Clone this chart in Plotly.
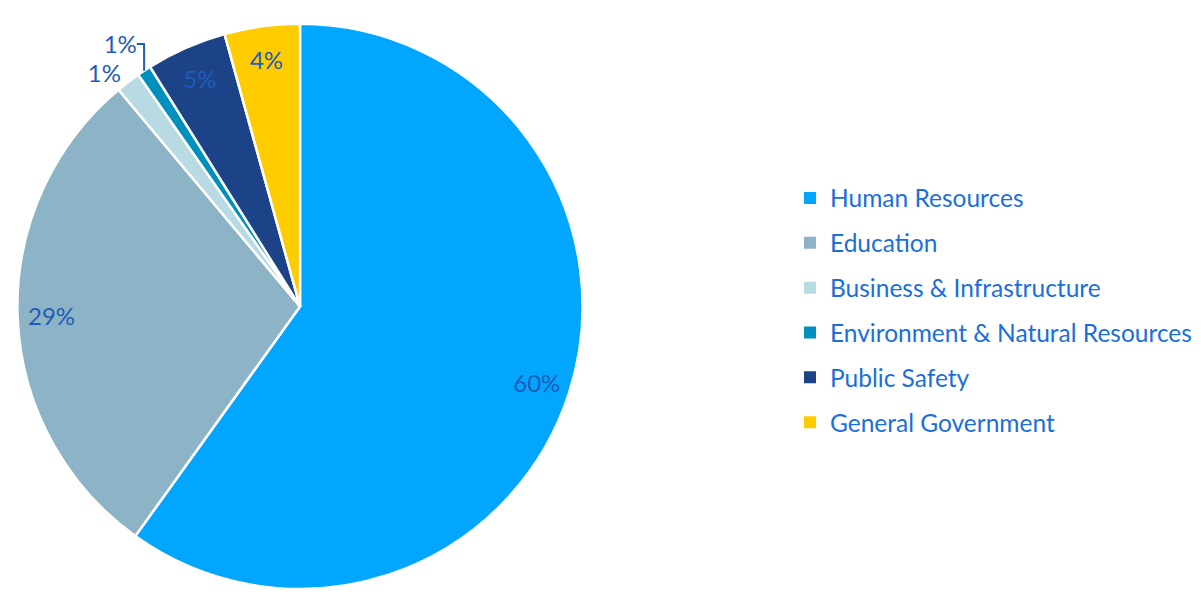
import plotly.graph_objects as go

categories = ["Human Resources", "Education", "Business & Infrastructure",
              "Environment & Natural Resources", "Public Safety", "General Government"]
shares = [59.9, 29.0, 1.4, 0.8, 4.6, 4.3]
colors = ["#00A6FF", "#8DB4C6", "#B7DAE3", "#0090BE", "#1C4288", "#FFCC00"]
text_positions = ["inside", "inside", "outside", "outside", "inside", "inside"]

W, H = 1201, 594
cx, r = 300, 285
dom = dict(x=[(cx - r) / W, (cx + r) / W], y=[0, 2 * r / H])
label_font = dict(family="Lato", size=24, color="#1F5CB8")

fig = go.Figure()
# coloured slices
fig.add_trace(go.Pie(
    labels=categories, values=shares, sort=False, direction="clockwise", rotation=0,
    marker=dict(colors=colors, line=dict(color="white", width=2.5)),
    textinfo="none", showlegend=False, hoverinfo="label+percent", domain=dom,
))
# transparent ring carrying the percentage labels near the rim
fig.add_trace(go.Pie(
    labels=categories, values=shares, sort=False, direction="clockwise", rotation=0,
    hole=0.76,
    marker=dict(colors=["rgba(0,0,0,0)"] * len(categories), line=dict(width=0)),
    texttemplate="%{percent:.0%}", textposition=text_positions,
    insidetextorientation="horizontal",
    textfont=label_font, outsidetextfont=label_font,
    showlegend=False, hoverinfo="skip", domain=dom,
))
for name, col in zip(categories, colors):
    fig.add_trace(go.Scatter(x=[None], y=[None], mode="markers", name=name,
                             legendgroup=name,
                             marker=dict(symbol="square", size=12, color=col)))

fig.update_layout(
    width=W, height=H, margin=dict(l=0, r=0, t=0, b=0),
    paper_bgcolor="white", plot_bgcolor="white",
    xaxis=dict(visible=False), yaxis=dict(visible=False),
    uniformtext=dict(minsize=24, mode="show"),
    legend=dict(x=(830 - 40) / W, xanchor="left", y=1 - 177 / H, yanchor="top",
                traceorder="grouped", tracegroupgap=10,
                font=dict(family="Lato", size=24.5, color="#1A6FDB"),
                bgcolor="rgba(0,0,0,0)"),
)
fig.write_html("out.html")
